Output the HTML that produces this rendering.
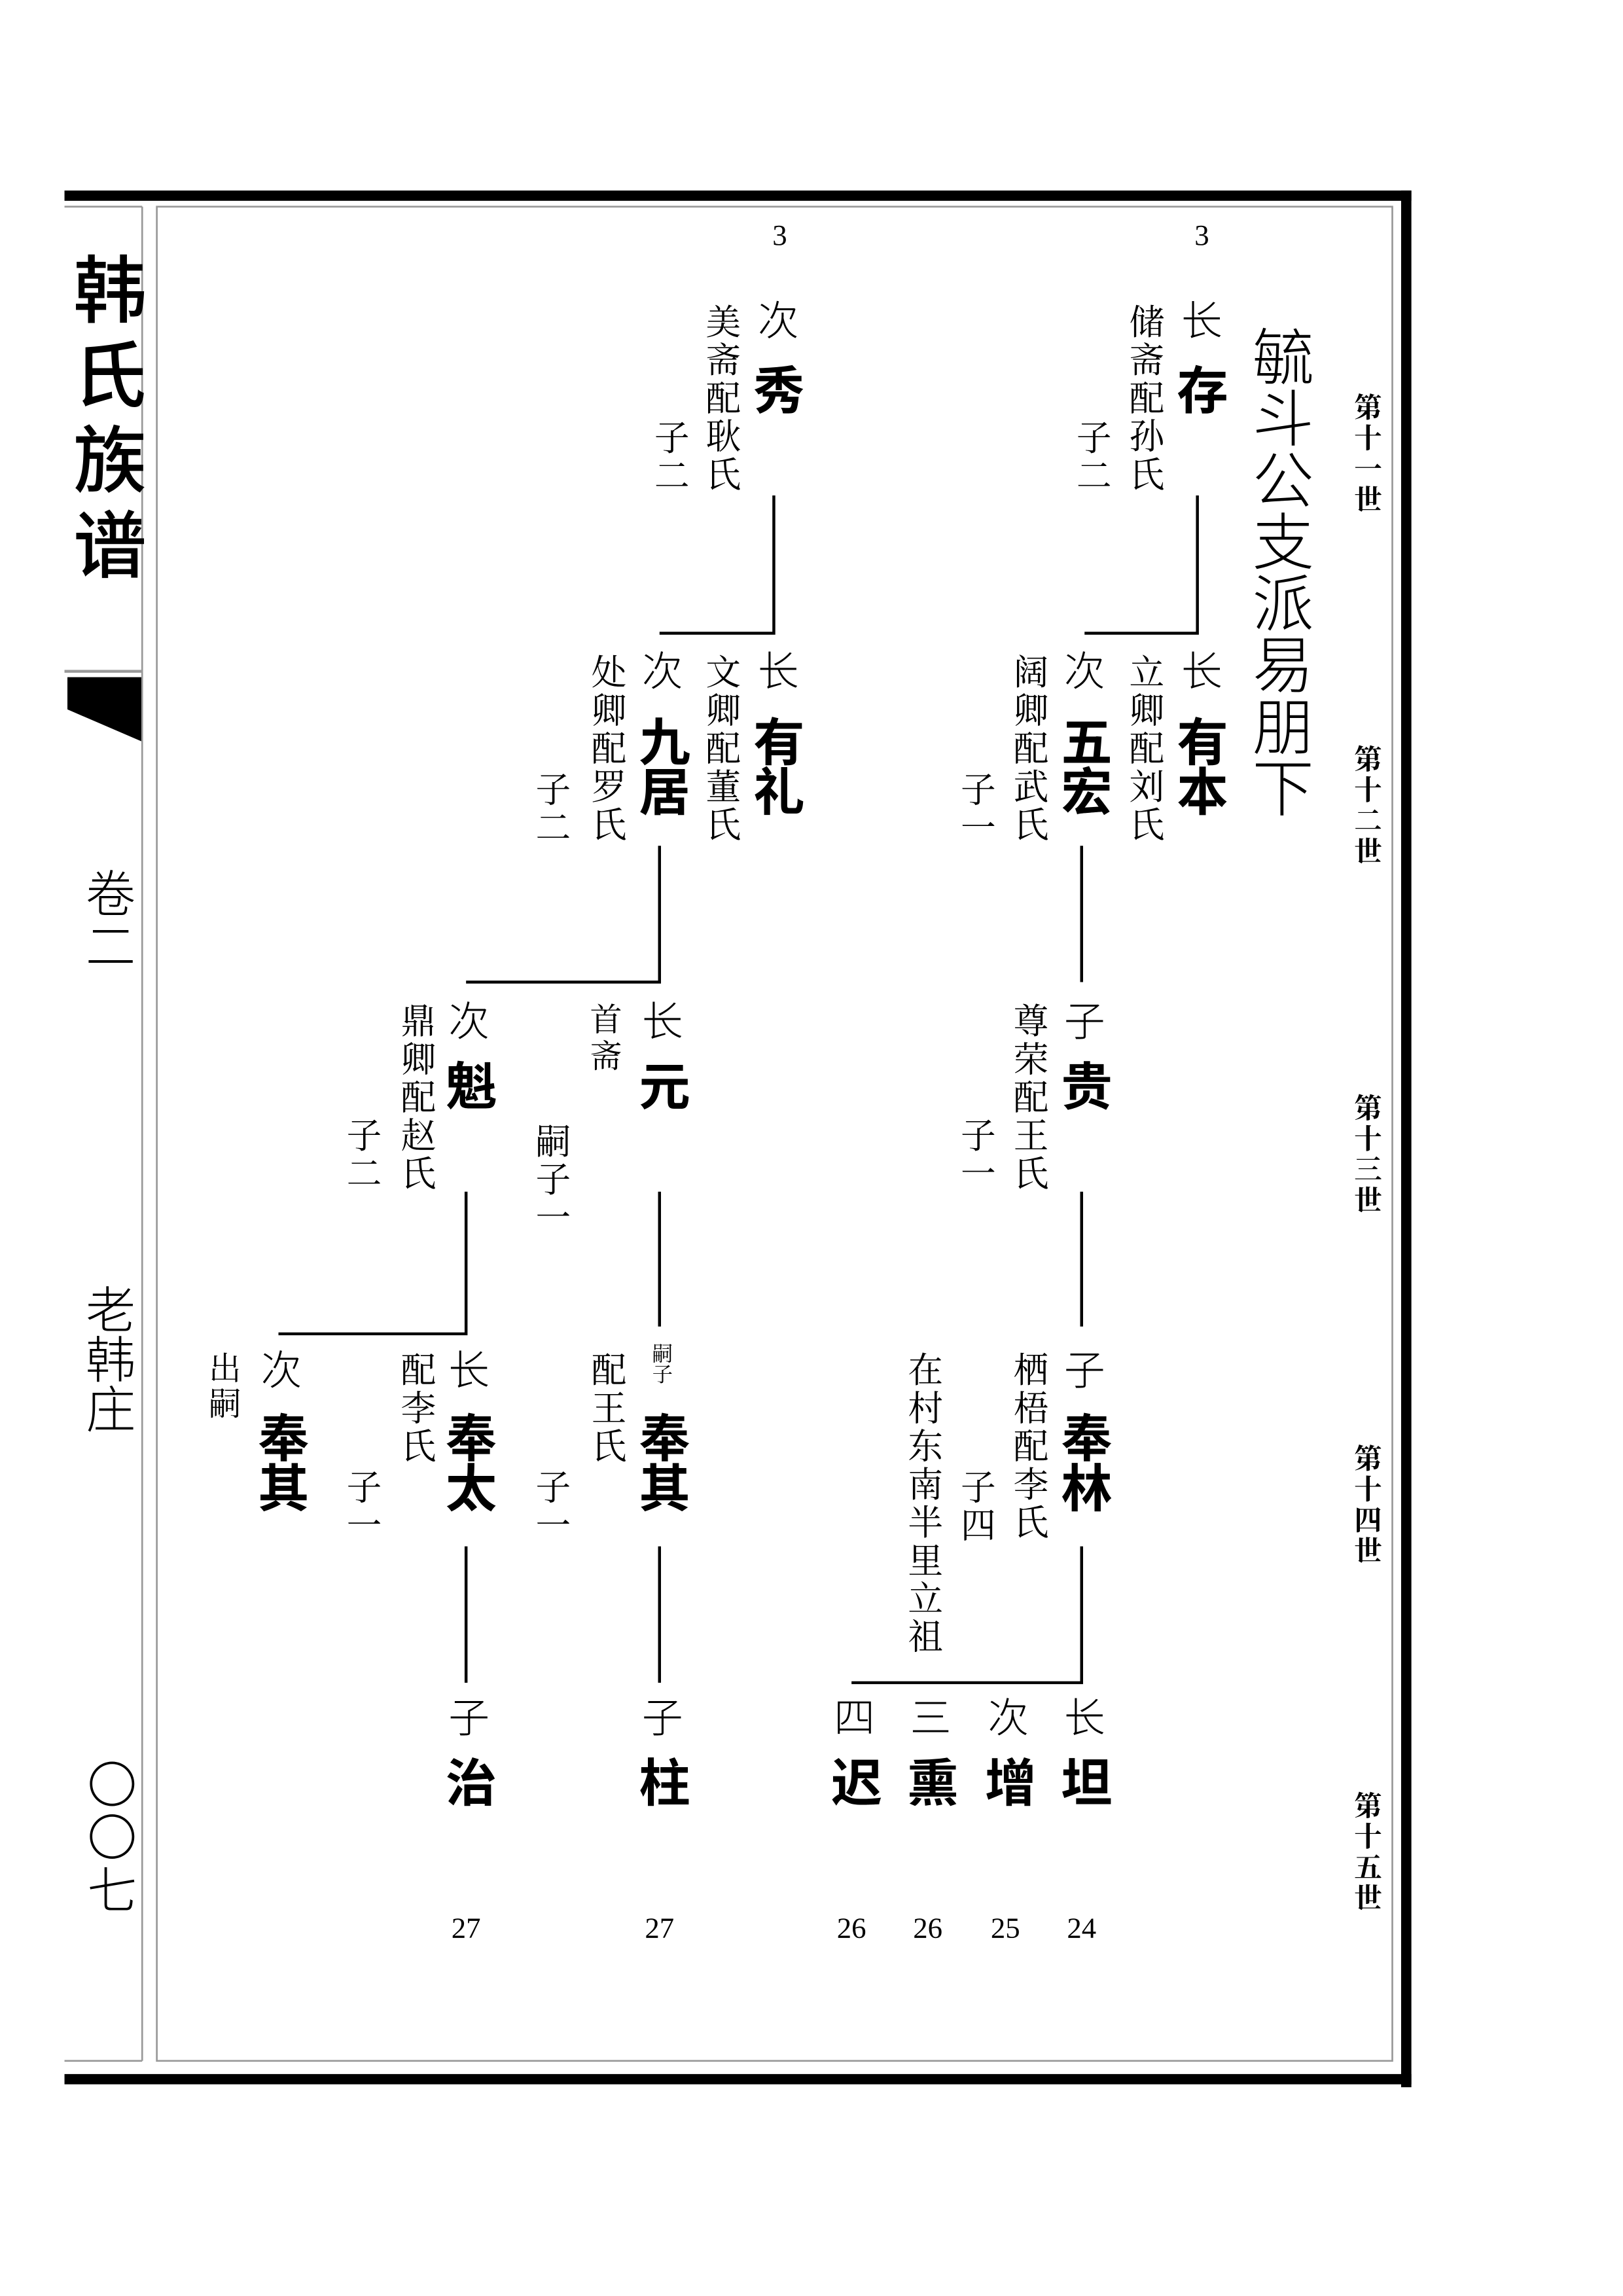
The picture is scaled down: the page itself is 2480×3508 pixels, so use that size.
<!DOCTYPE html>
<html><head><meta charset="utf-8"><style>
html,body{margin:0;padding:0;background:#fff}
body{width:2480px;height:3508px;overflow:hidden;position:relative}
#w{position:absolute;left:0;top:0;width:1100px;height:1556px;transform:scale(2.2395,2.2395);transform-origin:0 0}
.c{position:absolute;writing-mode:vertical-rl;text-orientation:upright;line-height:1;white-space:nowrap;color:#000}
.s{font-family:"Liberation Serif","Noto Serif CJK SC",serif;font-size:24px;letter-spacing:2px}
.r{font-family:"Liberation Sans","Noto Sans CJK SC",sans-serif;font-size:28px;font-weight:300}
.b{font-family:"Liberation Sans","Noto Sans CJK SC",sans-serif;font-size:35px;font-weight:700;letter-spacing:-1px}
.g{font-family:"Liberation Serif","Noto Serif CJK SC",serif;font-size:19px;font-weight:700;letter-spacing:2px}
.n{position:absolute;font-family:"Liberation Serif",serif;font-size:20px;line-height:1;transform:translateX(-50%)}
svg{position:absolute;left:0;top:0}
</style></head><body><div id="w">
<svg width="1100" height="1556" viewBox="0 0 1100 1556">
<g fill="#000">
<rect x="44" y="130" width="919" height="7"/>
<rect x="956" y="130" width="7" height="1294"/>
<rect x="44" y="1415" width="919" height="7"/>
<polygon points="46,462 97,462 97,506 46,484"/>
</g>
<g fill="none" stroke="#999" stroke-width="1.2">
<rect x="107" y="141" width="843" height="1265"/>
<line x1="44" y1="141" x2="97" y2="141"/>
<line x1="97" y1="141" x2="97" y2="1406"/>
<line x1="44" y1="1406" x2="97" y2="1406"/>
<line x1="44" y1="458" x2="97" y2="458" stroke-width="2"/>
</g>
<g fill="none" stroke="#000" stroke-width="2">
<polyline points="817,338 817,432 740,432"/>
<line x1="738" y1="577" x2="738" y2="670"/>
<line x1="738" y1="813" x2="738" y2="905"/>
<polyline points="738,1055 738,1148 581,1148"/>
<polyline points="528,338 528,432 450,432"/>
<polyline points="450,577 450,670 318,670"/>
<line x1="450" y1="813" x2="450" y2="905"/>
<polyline points="318,813 318,910 190,910"/>
<line x1="450" y1="1055" x2="450" y2="1148"/>
<line x1="318" y1="1055" x2="318" y2="1148"/>
</g>
</svg>

<div class="c" style="left:46px;top:172px;font-family:'Liberation Sans','Noto Sans CJK SC',sans-serif;font-size:50px;font-weight:500;letter-spacing:8px">韩氏族谱</div>
<div class="c" style="left:55px;top:592px;font-family:'Liberation Sans','Noto Sans CJK SC',sans-serif;font-size:34px;font-weight:300;letter-spacing:2px">卷二</div>
<div class="c" style="left:55px;top:876px;font-family:'Liberation Sans','Noto Sans CJK SC',sans-serif;font-size:34px;font-weight:300;letter-spacing:0px">老韩庄</div>
<div class="c" style="left:56px;top:1200px;font-family:'Liberation Sans','Noto Sans CJK SC',sans-serif;font-size:34px;font-weight:300;letter-spacing:2px">〇〇七</div>

<div class="c g" style="left:922px;top:268px">第十一世</div>
<div class="c g" style="left:922px;top:508px">第十二世</div>
<div class="c g" style="left:922px;top:746px">第十三世</div>
<div class="c g" style="left:922px;top:985px">第十四世</div>
<div class="c g" style="left:922px;top:1222px">第十五世</div>

<div class="c" style="left:851px;top:222px;font-family:'Liberation Sans','Noto Sans CJK SC',sans-serif;font-size:42px;font-weight:300;letter-spacing:0px">毓斗公支派易朋下</div>

<div class="n" style="left:532px;top:151px">3</div>
<div class="n" style="left:820px;top:151px">3</div>
<div class="n" style="left:318px;top:1306px">27</div>
<div class="n" style="left:450px;top:1306px">27</div>
<div class="n" style="left:581px;top:1306px">26</div>
<div class="n" style="left:633px;top:1306px">26</div>
<div class="n" style="left:686px;top:1306px">25</div>
<div class="n" style="left:738px;top:1306px">24</div>

<div class="c r" style="left:804px;top:204px">长</div>
<div class="c b" style="left:800px;top:248px">存</div>
<div class="c s" style="left:767px;top:207px">储斋配孙氏</div>
<div class="c s" style="left:731px;top:286px">子二</div>
<div class="c r" style="left:804px;top:443px">长</div>
<div class="c b" style="left:800px;top:488px">有本</div>
<div class="c s" style="left:767px;top:446px">立卿配刘氏</div>
<div class="c r" style="left:724px;top:443px">次</div>
<div class="c b" style="left:721px;top:488px">五宏</div>
<div class="c s" style="left:688px;top:446px">阔卿配武氏</div>
<div class="c s" style="left:652px;top:526px">子一</div>
<div class="c r" style="left:724px;top:682px">子</div>
<div class="c b" style="left:721px;top:723px">贵</div>
<div class="c s" style="left:688px;top:684px">尊荣配王氏</div>
<div class="c s" style="left:652px;top:762px">子一</div>
<div class="c r" style="left:724px;top:920px">子</div>
<div class="c b" style="left:721px;top:963px">奉林</div>
<div class="c s" style="left:688px;top:922px">栖梧配李氏</div>
<div class="c s" style="left:652px;top:1002px">子四</div>
<div class="c s" style="left:616px;top:922px">在村东南半里立祖</div>
<div class="c r" style="left:724px;top:1157px">长</div>
<div class="c b" style="left:721px;top:1198px">坦</div>
<div class="c r" style="left:672px;top:1157px">次</div>
<div class="c b" style="left:669px;top:1198px">增</div>
<div class="c r" style="left:619px;top:1157px">三</div>
<div class="c b" style="left:616px;top:1198px">熏</div>
<div class="c r" style="left:567px;top:1157px">四</div>
<div class="c b" style="left:564px;top:1198px">迟</div>

<div class="c r" style="left:515px;top:204px">次</div>
<div class="c b" style="left:511px;top:248px">秀</div>
<div class="c s" style="left:478px;top:207px">美斋配耿氏</div>
<div class="c s" style="left:443px;top:286px">子二</div>
<div class="c r" style="left:515px;top:443px">长</div>
<div class="c b" style="left:511px;top:488px">有礼</div>
<div class="c s" style="left:478px;top:446px">文卿配董氏</div>
<div class="c r" style="left:436px;top:443px">次</div>
<div class="c b" style="left:433px;top:488px">九居</div>
<div class="c s" style="left:400px;top:446px">处卿配罗氏</div>
<div class="c s" style="left:362px;top:526px">子二</div>
<div class="c r" style="left:436px;top:682px">长</div>
<div class="c b" style="left:433px;top:723px">元</div>
<div class="c s" style="left:401px;top:684px;font-size:22px;letter-spacing:3px">首斋</div>
<div class="c s" style="left:362px;top:766px">嗣子一</div>
<div class="c r" style="left:304px;top:682px">次</div>
<div class="c b" style="left:301px;top:723px">魁</div>
<div class="c s" style="left:270px;top:684px">鼎卿配赵氏</div>
<div class="c s" style="left:233px;top:762px">子二</div>
<div class="c s" style="left:443px;top:916px;font-size:14px;letter-spacing:0px">嗣子</div>
<div class="c b" style="left:433px;top:963px">奉其</div>
<div class="c s" style="left:400px;top:922px">配王氏</div>
<div class="c s" style="left:362px;top:1002px">子一</div>
<div class="c r" style="left:304px;top:920px">长</div>
<div class="c b" style="left:301px;top:963px">奉太</div>
<div class="c s" style="left:270px;top:922px">配李氏</div>
<div class="c s" style="left:233px;top:1002px">子一</div>
<div class="c r" style="left:176px;top:920px">次</div>
<div class="c b" style="left:173px;top:963px">奉其</div>
<div class="c s" style="left:141px;top:922px;font-size:22px;letter-spacing:2px">出嗣</div>
<div class="c r" style="left:436px;top:1157px">子</div>
<div class="c b" style="left:433px;top:1198px">柱</div>
<div class="c r" style="left:304px;top:1157px">子</div>
<div class="c b" style="left:301px;top:1198px">治</div>
</div></body></html>
